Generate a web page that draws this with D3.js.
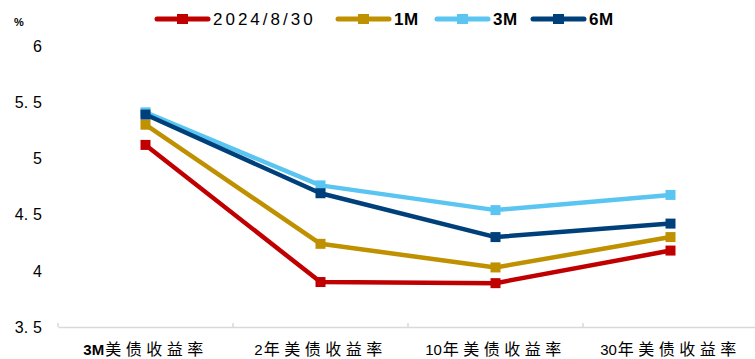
<!DOCTYPE html>
<html>
<head>
<meta charset="utf-8">
<script src="https://cdn.jsdelivr.net/npm/d3@7"></script>
<style>
  html, body { margin: 0; padding: 0; background: #fff; }
  svg { display: block; }
</style>
</head>
<body>
<svg id="chart" width="755" height="359"></svg>
<script>
// US Treasury yield curve at several points in time
const categories = ["3M美债收益率", "2年美债收益率", "10年美债收益率", "30年美债收益率"];
const seriesNames = ["2024/8/30", "1M", "3M", "6M"];
const values2024_8_30 = [5.12, 3.90, 3.89, 4.18];
const values1M = [5.30, 4.24, 4.03, 4.30];
const values3M = [5.41, 4.76, 4.54, 4.675];
const values6M = [5.39, 4.69, 4.30, 4.42];
const seriesColors = ["#C00000", "#BF9000", "#5BC5F2", "#00407A"];
const yTicks = [3.5, 4, 4.5, 5, 5.5, 6];

const series = [values2024_8_30, values1M, values3M, values6M].map((v, i) => ({
  name: seriesNames[i], values: v, color: seriesColors[i]
}));

const svg = d3.select("#chart");
const margin = { left: 58, right: -3, top: 46, bottom: 32 };
const W = 755, H = 359;

const x = d3.scaleBand().domain(categories).range([margin.left, W - margin.right]);
const y = d3.scaleLinear().domain([3.5, 6]).range([H - margin.bottom, margin.top]);

// y axis labels (no axis line); decimal part set a little apart
const yLab = svg.append("g").selectAll("text").data(yTicks).join("text")
  .attr("x", 42).attr("y", d => y(d)).attr("dy", "0.36em")
  .attr("text-anchor", "end")
  .attr("font-family", "Liberation Sans, Arial, sans-serif")
  .attr("font-size", 16)
  .attr("fill", "#000");
yLab.each(function(d) {
  const t = d3.select(this);
  if (Number.isInteger(d)) { t.text(String(d)); return; }
  const [a, b] = d.toFixed(1).split(".");
  t.append("tspan").text(a + ".");
  t.append("tspan").attr("dx", 5).text(b);
});

// unit label
svg.append("text").attr("x", 14).attr("y", 26)
  .attr("font-family", "Liberation Sans, Arial, sans-serif")
  .attr("font-size", 11).attr("font-weight", "bold")
  .text("%");

// category axis
const xAxis = svg.append("g").attr("transform", `translate(0,${y(3.5)})`)
  .call(d3.axisBottom(x).tickSize(0).tickFormat(""));
xAxis.select(".domain").attr("stroke", "#D9D9D9").attr("stroke-width", 1.5);
// tick separators between categories
const bounds = categories.map(c => x(c)).concat([x(categories[categories.length - 1]) + x.bandwidth()]);
xAxis.selectAll("line.sep").data(bounds).join("line").attr("class", "sep")
  .attr("x1", d => d).attr("x2", d => d).attr("y1", 0).attr("y2", -4)
  .attr("stroke", "#D9D9D9").attr("stroke-width", 1.5);

// category labels: leading Latin/digit part in sans, CJK part spaced out
const catLab = svg.append("g").selectAll("text").data(categories).join("text")
  .attr("x", d => x(d) + x.bandwidth() / 2).attr("y", 355)
  .attr("text-anchor", "middle")
  .attr("fill", "#000");
catLab.each(function(d) {
  const m = d.match(/^([0-9A-Za-z]+)(.*)$/);
  const t = d3.select(this);
  t.append("tspan")
    .attr("font-family", "Liberation Sans, Arial, sans-serif")
    .attr("font-size", 15)
    .attr("font-weight", /[A-Za-z]/.test(m[1]) ? "bold" : "normal")
    .text(m[1]);
  t.append("tspan")
    .attr("font-family", "Noto Sans CJK SC, sans-serif")
    .attr("font-size", 16).attr("letter-spacing", 4.5).attr("dx", 1)
    .text(m[2]);
});

// lines and square markers
const cx = c => x(c) + x.bandwidth() / 2;
const line = d3.line().x((d, i) => cx(categories[i])).y(d => y(d));
const g = svg.append("g");
series.forEach(s => {
  g.append("path").datum(s.values)
    .attr("d", line).attr("fill", "none")
    .attr("stroke", s.color).attr("stroke-width", 4.5)
    .attr("stroke-linejoin", "round");
  g.selectAll(null).data(s.values).join("rect")
    .attr("x", (d, i) => cx(categories[i]) - 5).attr("y", d => y(d) - 5)
    .attr("width", 10).attr("height", 10)
    .attr("fill", s.color);
});

// legend
const legendX = [157, 338, 437, 533];
const lg = svg.append("g");
series.forEach((s, i) => {
  const lx = legendX[i];
  lg.append("line").attr("x1", lx).attr("x2", lx + 51).attr("y1", 19).attr("y2", 19)
    .attr("stroke", s.color).attr("stroke-width", 5).attr("stroke-linecap", "round");
  lg.append("rect").attr("x", lx + 20).attr("y", 14).attr("width", 11).attr("height", 10)
    .attr("fill", s.color);
  lg.append("text").attr("x", lx + 56).attr("y", 19).attr("dy", "0.36em")
    .attr("font-family", "Liberation Sans, Arial, sans-serif")
    .attr("font-size", 17)
    .attr("font-weight", i === 0 ? "normal" : "bold")
    .attr("letter-spacing", i === 0 ? 3 : 0.5)
    .attr("fill", "#000")
    .text(s.name);
});
</script>
</body>
</html>
